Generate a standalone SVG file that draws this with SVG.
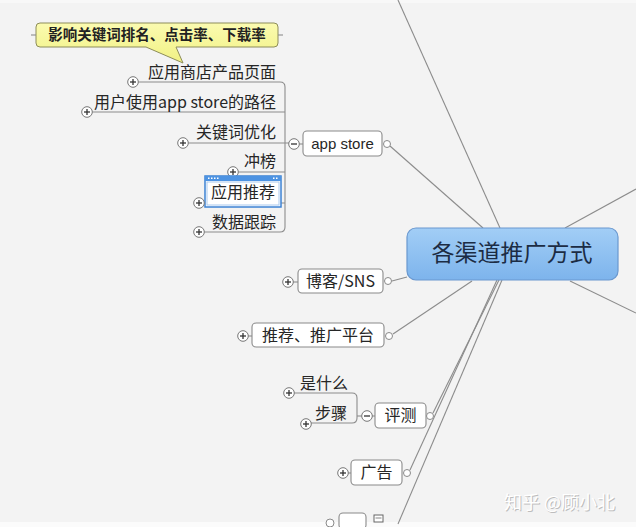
<svg xmlns="http://www.w3.org/2000/svg" width="636" height="527" viewBox="0 0 636 527">
<style>
.bg{fill:#f3f3f3}
.ln{stroke:#8c8c8c;stroke-width:1.1;fill:none}
.box{fill:#ffffff;stroke:#8a8a8a;stroke-width:1.1}
.t{font-family:"Noto Sans CJK SC","Liberation Sans",sans-serif;font-size:16px;fill:#262626}
.tl{font-family:"Liberation Sans","Noto Sans CJK SC",sans-serif;font-size:15px;fill:#262626}
.pm{fill:#ffffff;stroke:#777;stroke-width:1}
.sg{stroke:#333;stroke-width:1.3}
.dot{fill:#ffffff;stroke:#8a8a8a;stroke-width:1}
</style>
<defs>
<linearGradient id="cg" x1="0" y1="0" x2="0" y2="1">
<stop offset="0" stop-color="#a2cef6"/>
<stop offset="1" stop-color="#7db4ec"/>
</linearGradient>
<linearGradient id="yg" x1="0" y1="0" x2="0" y2="1">
<stop offset="0" stop-color="#fbfbb0"/>
<stop offset="1" stop-color="#f1f184"/>
</linearGradient>
<g id="plus"><circle class="pm" r="5.3"/><line class="sg" x1="-3" y1="0" x2="3" y2="0"/><line class="sg" x1="0" y1="-3" x2="0" y2="3"/></g>
<g id="minus"><circle class="pm" r="5.3"/><line class="sg" x1="-3" y1="0" x2="3" y2="0"/></g>
</defs>
<rect class="bg" x="0" y="0" width="636" height="527"/>
<rect x="0" y="0" width="636" height="3" fill="#f8f8f8"/>
<rect x="0" y="522" width="636" height="5" fill="#fbfbfb"/>

<g id="connectors">
<line class="ln" x1="398" y1="0" x2="500" y2="228"/>
<line class="ln" x1="390" y1="146" x2="483" y2="228"/>
<line class="ln" x1="565" y1="228" x2="636" y2="189"/>
<line class="ln" x1="392" y1="281" x2="407" y2="277"/>
<line class="ln" x1="393" y1="334" x2="472" y2="281"/>
<line class="ln" x1="570" y1="281" x2="636" y2="313"/>
<line class="ln" x1="433" y1="413" x2="499" y2="280"/>
<line class="ln" x1="410" y1="470" x2="497" y2="280"/>
<line class="ln" x1="398" y1="524" x2="502" y2="280"/>
<path class="ln" d="M138 82 H280 Q285 82 285 87 V227 Q285 232 280 232 H204"/>
<line class="ln" x1="92" y1="112" x2="285" y2="112"/>
<line class="ln" x1="188" y1="143" x2="289" y2="143"/>
<line class="ln" x1="238" y1="172" x2="285" y2="172"/>
<line class="ln" x1="204" y1="203" x2="285" y2="203"/>
<line class="ln" x1="299" y1="144" x2="303" y2="144"/>
<path class="ln" d="M294 393 H352 Q357 393 357 398 V418 Q357 423 352 423 H311"/>
<line class="ln" x1="357" y1="416" x2="362" y2="416"/>
<line class="ln" x1="372" y1="416" x2="375" y2="416"/>
<line class="ln" x1="293" y1="282" x2="298" y2="282"/>
<line class="ln" x1="248" y1="336" x2="252" y2="336"/>
<line class="ln" x1="348" y1="473" x2="351" y2="473"/>
</g>

<g id="callout">
<path d="M40 23 H274 Q278 23 278 27 V43 Q278 47 274 47 H176 L183 63 L146 47 H40 Q36 47 36 43 V27 Q36 23 40 23 Z" fill="url(#yg)" stroke="#8d8d5a" stroke-width="1"/>
<line class="ln" x1="31" y1="35" x2="36" y2="35"/>
<line class="ln" x1="278" y1="35" x2="283" y2="35"/>
<text x="157" y="40" text-anchor="middle" font-family="Noto Sans CJK SC,sans-serif" font-size="14.5" font-weight="bold" fill="#222">影响关键词排名、点击率、下载率</text>
</g>

<g id="n-yingyongshangdian"><use href="#plus" x="133" y="82"/><text class="t" x="276" y="78" text-anchor="end">应用商店产品页面</text></g>
<g id="n-lujing"><use href="#plus" x="87" y="112"/><text class="t" x="276" y="108" text-anchor="end">用户使用app store的路径</text></g>
<g id="n-guanjianci"><use href="#plus" x="183" y="143"/><text class="t" x="276" y="138" text-anchor="end">关键词优化</text></g>
<g id="n-chongbang"><use href="#plus" x="233" y="172"/><text class="t" x="276" y="167" text-anchor="end">冲榜</text></g>
<g id="n-tuijian">
<rect x="205" y="176" width="76" height="31" fill="#ffffff" stroke="#3d82d4" stroke-width="1.5"/>
<rect x="205" y="176" width="76" height="5" fill="#4d93e2"/>
<g fill="#ffffff"><rect x="208" y="177.5" width="1.5" height="1.5"/><rect x="211" y="177.5" width="1.5" height="1.5"/><rect x="214" y="177.5" width="1.5" height="1.5"/><rect x="217" y="177.5" width="1.5" height="1.5"/><rect x="273" y="177.5" width="1.5" height="1.5"/><rect x="276" y="177.5" width="1.5" height="1.5"/></g>
<rect x="207" y="182" width="72" height="23" fill="none" stroke="#a9c9ee" stroke-width="1"/>
<text class="t" x="243" y="198" text-anchor="middle">应用推荐</text>
<use href="#plus" x="199" y="203"/>
</g>
<g id="n-shuju"><use href="#plus" x="199" y="232"/><text class="t" x="276" y="228" text-anchor="end">数据跟踪</text></g>

<g id="n-appstore">
<rect class="box" x="303" y="131" width="79" height="25" rx="4"/>
<text class="tl" x="342.5" y="149" text-anchor="middle">app store</text>
<use href="#minus" x="294" y="144"/>
<circle class="dot" cx="387" cy="144" r="3.5"/>
</g>

<g id="n-center">
<rect x="407" y="228" width="211" height="52" rx="9" fill="url(#cg)" stroke="#6a98cf" stroke-width="1.2"/>
<text x="512" y="261" text-anchor="middle" font-family="Noto Sans CJK SC,sans-serif" font-size="23" fill="#1c2c44">各渠道推广方式</text>
</g>

<g id="n-boke">
<rect class="box" x="298" y="269" width="85" height="24" rx="4"/>
<text class="t" x="340.5" y="287" text-anchor="middle">博客/SNS</text>
<use href="#plus" x="288" y="282"/>
<circle class="dot" cx="388" cy="281" r="3.5"/>
</g>

<g id="n-pingtai">
<rect class="box" x="252" y="323" width="132" height="24" rx="4"/>
<text class="t" x="318" y="341" text-anchor="middle">推荐、推广平台</text>
<use href="#plus" x="243" y="336"/>
<circle class="dot" cx="389" cy="336" r="3.5"/>
</g>

<g id="n-shishenme"><use href="#plus" x="289" y="393"/><text class="t" x="300" y="389">是什么</text></g>
<g id="n-buzhou"><use href="#plus" x="306" y="424"/><text class="t" x="315" y="419">步骤</text></g>

<g id="n-pingce">
<rect class="box" x="375" y="403" width="51" height="25" rx="4"/>
<text class="t" x="400.5" y="421" text-anchor="middle">评测</text>
<use href="#minus" x="367" y="416"/>
<circle class="dot" cx="430" cy="416" r="3.5"/>
</g>

<g id="n-guanggao">
<rect class="box" x="351" y="460" width="51" height="25" rx="4"/>
<text class="t" x="376.5" y="478" text-anchor="middle">广告</text>
<use href="#plus" x="343" y="473"/>
<circle class="dot" cx="407" cy="473" r="3.5"/>
</g>

<g id="n-bottom">
<rect class="box" x="339" y="513" width="27" height="16" rx="4"/>
<circle class="dot" cx="330" cy="523" r="4"/>
<rect x="374" y="515" width="9" height="7" fill="#ffffff" stroke="#666" stroke-width="1"/>
<line x1="375.5" y1="518" x2="381.5" y2="518" stroke="#666" stroke-width="0.8"/>
</g>

<g id="watermark" font-family="Noto Sans CJK SC,sans-serif" font-size="18">
<text x="505" y="510" fill="#bdbdbd">知乎 @顾小北</text>
<text x="504" y="509" fill="#ffffff">知乎 @顾小北</text>
</g>
</svg>
